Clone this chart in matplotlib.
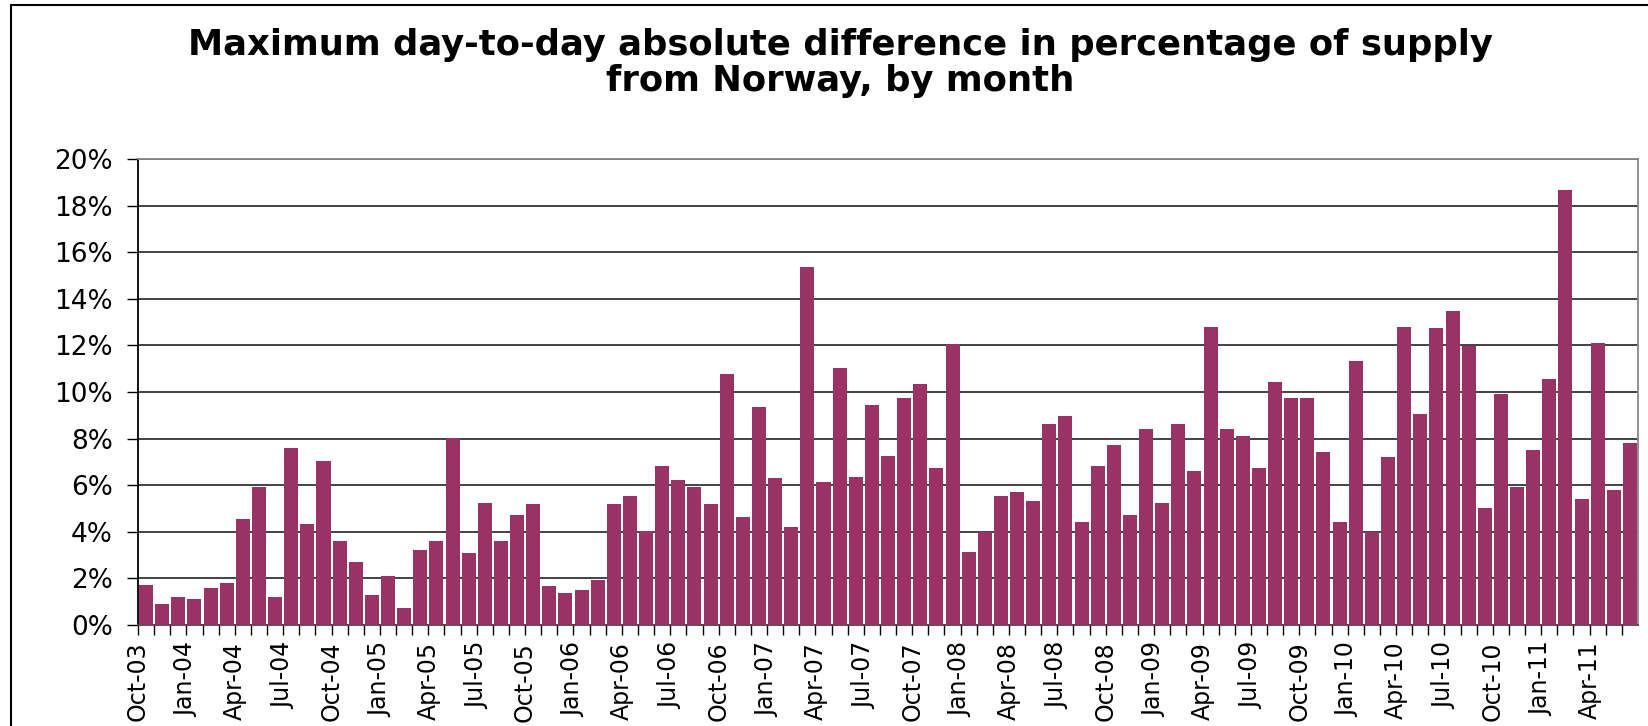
import matplotlib
matplotlib.use("Agg")
import matplotlib.pyplot as plt
from matplotlib.patches import Rectangle
from matplotlib.ticker import FuncFormatter

# one bar per month, Oct-03 .. Jun-11
months = []
for y in range(2003, 2012):
    for m in ["Jan", "Feb", "Mar", "Apr", "May", "Jun", "Jul", "Aug", "Sep", "Oct", "Nov", "Dec"]:
        months.append(f"{m}-{str(y)[2:]}")
months = months[months.index("Oct-03"):months.index("Jun-11") + 1]

# max day-to-day absolute difference, % of supply
values = [
    1.70, 0.89, 1.19,
    1.10, 1.57, 1.79, 4.53, 5.91, 1.19, 7.58, 4.32, 7.02, 3.59, 2.69, 1.27,
    2.09, 0.71, 3.20, 3.59, 8.01, 3.08, 5.23, 3.59, 4.71, 5.18, 1.66, 1.36,
    1.49, 1.92, 5.18, 5.52, 4.02, 6.81, 6.21, 5.91, 5.18, 10.77, 4.62, 9.35,
    6.30, 4.19, 15.36, 6.13, 11.03, 6.34, 9.44, 7.24, 9.74, 10.34, 6.73, 12.06,
    3.12, 3.98, 5.52, 5.69, 5.31, 8.62, 8.96, 4.41, 6.81, 7.71, 4.71, 8.40,
    5.23, 8.62, 6.60, 12.78, 8.40, 8.10, 6.73, 10.43, 9.74, 9.74, 7.41, 4.41,
    11.32, 3.98, 7.20, 12.78, 9.05, 12.74, 13.47, 11.97, 5.01, 9.91, 5.91, 7.50,
    10.55, 18.67, 5.40, 12.10, 5.80, 7.80,
]

W, H = 1648, 726
fig = plt.figure(figsize=(W / 100, H / 100), dpi=100)
ax = fig.add_axes([138 / W, 1 - 625 / H, 1500 / W, 466 / H])

x = list(range(len(values)))
ax.bar(x, values, width=0.87, color="#993366", zorder=3)

ax.set_xlim(-0.5, len(values) - 0.5)
ax.set_ylim(0, 20)
ax.set_yticks(range(0, 21, 2))
ax.yaxis.set_major_formatter(FuncFormatter(lambda v, p: f"{int(v)}%"))
ax.grid(axis="y", color="#222222", linewidth=1.2, zorder=0)

# tick at every month boundary, label every third month
ax.set_xticks([i - 0.5 for i in x])
ax.set_xticklabels([m if i % 3 == 0 else "" for i, m in enumerate(months)],
                   rotation=90, fontsize=17, family="DejaVu Sans")
ax.tick_params(axis="x", length=7, width=1, pad=5)
ax.tick_params(axis="y", length=8, width=1, labelsize=19, pad=10)

ax.spines["left"].set_color("black")
ax.spines["bottom"].set_color("#444444")
ax.spines["top"].set_color("#888888")
ax.spines["right"].set_color("#888888")
for s in ax.spines.values():
    s.set_linewidth(1.3)

fig.text(840 / W, 1 - 63 / H,
         "Maximum day-to-day absolute difference in percentage of supply\nfrom Norway, by month",
         ha="center", va="center", fontsize=25.5, fontweight="heavy",
         family="DejaVu Sans", linespacing=1.1)

# chart area frame (cut off at right and bottom)
fig.patches.append(Rectangle((11 / W, -0.1), 1.2, 1 - 5 / H + 0.1,
                             transform=fig.transFigure, fill=False,
                             edgecolor="black", linewidth=1.5))

fig.savefig("out.png", dpi=100)
